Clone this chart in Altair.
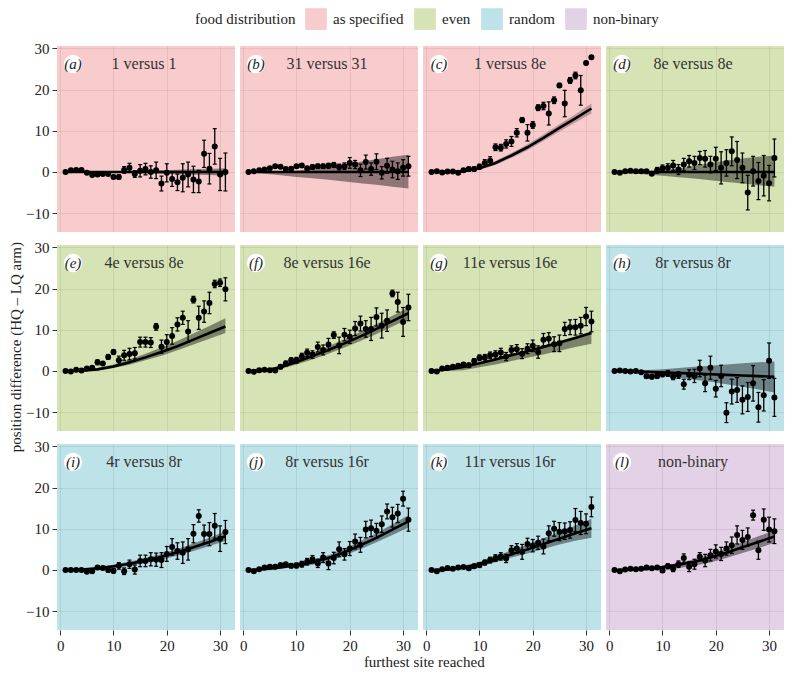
import altair as alt
import pandas as pd

letters = list("abcdefghijkl")
titles = ["1 versus 1", "31 versus 31", "1 versus 8e", "8e versus 8e",
          "4e versus 8e", "8e versus 16e", "11e versus 16e", "8r versus 8r",
          "4r versus 8r", "8r versus 16r", "11r versus 16r", "non-binary"]
foods = ["as specified", "as specified", "as specified", "even",
         "even", "even", "even", "random",
         "random", "random", "random", "non-binary"]
food_domain = ["as specified", "even", "random", "non-binary"]
food_colors = ["#f8cbcd", "#d5e3b5", "#bde2e8", "#e3d1e6"]

sites = list(range(1, 32))
fit_sites = [1, 4, 7, 10, 13, 16, 19, 22, 25, 28, 31]

means = {
    "a": [0, 0.4, 0.5, 0.5, -0.2, -0.7, -0.6, -0.5, -0.5, -1.2, -1.2, 0.5, 1.0, -0.5, 0.3, 0.7, 0, 0.4, -2.8, -0.2, -1.7, -2.5, -1.4, -0.6, -1.8, -2.3, 4.4, 0.8, 6.2, -0.6, 0],
    "b": [0, 0.15, 0.4, 0.6, 0.9, 1.4, 1.3, 0.7, 0.8, 1.4, 1.6, 0.9, 1.2, 1.4, 1.4, 1.5, 1.7, 1.2, 1.4, 2.2, 1.8, 0.4, 2.4, 0.7, 2.5, -0.2, 1.5, 0.6, 0.2, 1.0, 1.4],
    "c": [0, 0.2, -0.1, 0.1, 0.1, -0.2, 0.4, 0.7, 0.7, 1.3, 2.2, 2.7, 6.0, 5.9, 6.8, 7.4, 9.5, 12.6, 9.5, 11.4, 15.6, 16.0, 14.2, 17.4, 21.0, 16.6, 22.2, 23.4, 19.8, 26.4, 27.8],
    "d": [0, -0.2, 0.2, 0.3, 0.2, 0.2, 0.2, -0.4, 0.4, 0.9, 1.0, 1.6, 0.6, 1.8, 2.6, 2.2, 3.4, 3.2, 1.8, 3.2, 1.0, 2.2, 5.0, 2.9, 1.0, -5.0, 0.2, -2.2, -0.9, -2.7, 3.4],
    "e": [0, -0.1, 0.3, 0.1, 0.6, 0.8, 2.1, 1.8, 3.4, 4.6, 2.6, 3.8, 4.1, 4.3, 7.0, 7.0, 6.9, 10.7, 5.9, 7.0, 8.5, 11.3, 12.9, 9.6, 17.3, 12.9, 14.4, 16.5, 21.1, 21.4, 19.8],
    "f": [0, -0.2, 0.2, 0.3, 0.2, 0.1, 1.0, 1.8, 2.6, 2.6, 3.5, 4.4, 4.0, 5.8, 5.1, 6.4, 8.7, 6.2, 8.8, 8.3, 10.3, 11.5, 10.2, 10.2, 13.1, 11.0, 12.2, 18.8, 16.7, 11.9, 15.4],
    "g": [0, -0.1, 0.6, 0.8, 1.0, 1.3, 1.6, 1.4, 2.4, 3.2, 3.2, 3.8, 4.0, 4.5, 3.5, 5.1, 5.3, 4.2, 5.4, 6.1, 4.6, 7.6, 7.8, 6.5, 6.7, 10.2, 10.6, 10.6, 11.0, 13.2, 12.0],
    "h": [0, 0.1, 0, -0.1, 0, -0.3, -1.3, -1.4, -1.2, -0.8, -0.6, -1.4, -1.0, -3.2, -0.9, -1.2, 0.6, -3.0, 0.8, -4.3, -1.2, -10.1, -5.0, -4.6, -7.0, -6.3, -3.0, -8.8, -5.9, 2.5, -6.4],
    "i": [0, 0, 0, 0, -0.4, -0.3, 0.6, 0.5, 0, -0.2, 1.0, -0.3, 1.4, 0.1, 2.2, 2.2, 2.6, 2.5, 2.4, 3.9, 5.6, 4.6, 4.2, 5.0, 8.8, 13.1, 8.7, 8.7, 10.7, 7.6, 9.2],
    "j": [0, -0.3, 0.2, 0.6, 0.8, 0.8, 1.2, 1.4, 1.0, 1.1, 1.4, 2.0, 2.6, 1.6, 3.0, 1.6, 2.9, 5.0, 3.8, 5.2, 6.9, 6.1, 9.8, 10.1, 9.5, 11.1, 14.2, 12.8, 13.7, 17.3, 12.2],
    "k": [0, -0.3, 0.2, 0.5, 0.3, 0.6, 0.7, 0.4, 0.9, 1.2, 1.8, 2.4, 2.9, 3.3, 2.8, 4.8, 5.2, 4.4, 6.3, 5.9, 6.6, 5.7, 8.9, 10.0, 9.3, 9.4, 9.7, 12.1, 11.4, 11.2, 15.3],
    "l": [0, -0.3, 0.1, 0.3, 0.2, 0.3, 0.6, 0.4, 0.6, -0.1, 0.9, 0.3, 1.4, 2.9, 0.8, 1.4, 3.2, 2.3, 3.6, 4.5, 3.9, 5.2, 6.0, 8.5, 7.3, 8.0, 13.3, 4.8, 12.2, 9.8, 9.4],
}

errs = {
    "a": [0.2, 0.2, 0.2, 0.2, 0.2, 0.3, 0.3, 0.3, 0.3, 0.4, 0.5, 0.8, 1.1, 0.8, 1.5, 1.4, 1.5, 2.0, 1.8, 2.2, 1.8, 2.0, 3.4, 3.0, 3.2, 2.7, 3.3, 3.7, 4.3, 3.9, 4.6],
    "b": [0.2, 0.2, 0.2, 0.2, 0.2, 0.3, 0.3, 0.3, 0.3, 0.4, 0.4, 0.4, 0.5, 0.5, 0.5, 0.6, 0.6, 0.7, 0.8, 1.3, 1.0, 1.5, 1.7, 1.5, 1.9, 1.5, 1.8, 2.0, 2.0, 2.0, 2.4],
    "c": [0.2, 0.2, 0.2, 0.2, 0.3, 0.3, 0.4, 0.5, 0.5, 0.6, 0.8, 1.0, 0.8, 0.8, 1.0, 1.2, 1.0, 0.6, 2.0, 0.8, 0.7, 0.9, 2.8, 0.8, 0.5, 3.2, 0.7, 0.8, 3.6, 0.4, 0.4],
    "d": [0.2, 0.2, 0.2, 0.2, 0.2, 0.3, 0.3, 0.4, 0.7, 0.8, 1.0, 1.2, 1.2, 1.5, 1.4, 1.6, 1.6, 2.0, 2.0, 2.8, 3.9, 3.2, 3.5, 4.5, 3.6, 4.2, 3.6, 4.5, 4.9, 4.3, 4.6],
    "e": [0.2, 0.2, 0.2, 0.2, 0.3, 0.3, 0.6, 0.4, 0.6, 0.6, 1.0, 1.2, 1.4, 1.4, 1.2, 1.2, 1.2, 0.8, 1.6, 1.8, 2.0, 1.6, 1.6, 2.6, 0.8, 2.8, 2.6, 2.6, 0.9, 0.9, 2.8],
    "f": [0.2, 0.2, 0.2, 0.2, 0.3, 0.3, 0.5, 0.6, 0.6, 0.7, 0.8, 0.9, 0.9, 1.2, 1.2, 1.5, 0.8, 2.0, 1.5, 1.6, 1.7, 1.8, 2.0, 2.8, 2.2, 3.0, 2.6, 0.8, 2.4, 3.5, 3.2],
    "g": [0.2, 0.2, 0.3, 0.3, 0.3, 0.4, 0.4, 0.5, 0.6, 0.7, 0.8, 0.8, 0.9, 1.0, 1.0, 1.0, 1.1, 1.2, 1.2, 1.4, 1.5, 1.5, 1.5, 1.8, 2.0, 1.6, 1.8, 1.9, 2.0, 2.2, 2.5],
    "h": [0.2, 0.2, 0.2, 0.2, 0.2, 0.3, 0.5, 0.5, 0.6, 0.6, 0.7, 0.7, 0.8, 1.2, 1.2, 1.6, 2.0, 2.0, 2.8, 2.0, 2.6, 2.4, 3.0, 3.0, 3.4, 3.5, 4.3, 3.6, 3.8, 4.3, 4.6],
    "i": [0.2, 0.2, 0.2, 0.2, 0.2, 0.3, 0.3, 0.4, 0.5, 0.6, 0.8, 0.8, 1.0, 1.1, 1.4, 1.4, 1.6, 1.6, 1.8, 1.8, 2.0, 2.0, 2.6, 2.6, 2.2, 1.5, 2.2, 2.8, 3.0, 3.1, 2.8],
    "j": [0.2, 0.2, 0.2, 0.2, 0.3, 0.3, 0.3, 0.4, 0.5, 0.6, 0.7, 0.8, 0.9, 1.0, 1.2, 1.5, 1.4, 1.8, 1.4, 1.7, 1.8, 1.8, 2.0, 2.0, 1.8, 2.0, 1.8, 2.4, 2.2, 1.8, 2.8],
    "k": [0.2, 0.2, 0.2, 0.2, 0.2, 0.3, 0.3, 0.4, 0.5, 0.6, 0.6, 0.7, 0.8, 0.9, 1.0, 1.1, 1.2, 1.8, 1.4, 1.5, 1.6, 1.8, 1.8, 1.8, 2.2, 2.0, 2.0, 2.8, 2.8, 2.4, 2.4],
    "l": [0.2, 0.2, 0.2, 0.2, 0.2, 0.3, 0.3, 0.3, 0.4, 0.5, 0.6, 0.7, 0.8, 1.0, 1.2, 1.2, 1.0, 1.5, 1.4, 1.6, 1.6, 1.6, 2.0, 2.2, 2.3, 2.2, 1.2, 2.2, 2.6, 3.0, 3.0],
}

fit_mid = {
    "a": [0, 0, 0, 0, 0, 0, 0, 0, 0, 0, 0],
    "b": [0, 0, 0, 0, 0, 0, 0, 0, 0, 0, 0],
    "c": [0, 0, 0.2, 0.9, 2.2, 4.0, 6.0, 8.3, 10.7, 13.0, 15.4],
    "d": [0, 0, 0, 0, 0, 0, 0, 0, 0, 0, 0],
    "e": [0, 0.05, 0.4, 1.1, 2.1, 3.3, 4.6, 6.0, 7.6, 9.2, 10.8],
    "f": [0, 0.1, 0.9, 2.2, 3.6, 5.1, 6.7, 8.4, 10.2, 12.1, 14.0],
    "g": [0, 0.4, 1.0, 1.9, 2.8, 3.8, 4.8, 5.8, 6.9, 8.0, 9.2],
    "h": [0, -0.1, -0.2, -0.35, -0.5, -0.65, -0.8, -0.95, -1.1, -1.25, -1.4],
    "i": [0, 0.1, 0.4, 0.9, 1.5, 2.3, 3.2, 4.3, 5.5, 6.8, 8.2],
    "j": [0, 0.2, 0.6, 1.2, 1.9, 2.9, 4.3, 6.0, 7.8, 9.8, 11.8],
    "k": [0, 0.1, 0.6, 1.4, 2.5, 3.8, 5.0, 6.3, 7.6, 8.9, 10.1],
    "l": [0, 0.1, 0.3, 0.7, 1.3, 2.0, 3.0, 4.2, 5.5, 6.8, 8.1],
}
fit_hi = {
    "a": [0, 0.1, 0.15, 0.2, 0.3, 0.35, 0.45, 0.55, 0.65, 0.75, 0.9],
    "b": [0, 0, 0.1, 0.3, 0.8, 1.3, 1.9, 2.5, 3.1, 3.7, 4.2],
    "c": [0, 0.2, 0.5, 1.3, 2.7, 4.6, 6.7, 9.1, 11.6, 14.0, 16.6],
    "d": [0, 0.1, 0.2, 0.4, 0.8, 1.5, 2.2, 2.8, 3.3, 3.7, 4.0],
    "e": [0, 0.15, 0.7, 1.6, 2.8, 4.2, 5.7, 7.3, 9.1, 10.9, 12.8],
    "f": [0, 0.3, 1.3, 2.8, 4.4, 6.0, 7.7, 9.5, 11.4, 13.4, 15.4],
    "g": [0, 0.5, 1.2, 2.1, 3.1, 4.1, 5.1, 6.1, 7.3, 8.4, 9.6],
    "h": [0, 0.1, 0.25, 0.4, 0.7, 1.0, 1.3, 1.6, 1.9, 2.1, 2.3],
    "i": [0, 0.3, 0.7, 1.3, 2.0, 2.9, 3.9, 5.1, 6.4, 7.8, 9.4],
    "j": [0, 0.4, 0.9, 1.7, 2.5, 3.6, 5.1, 7.0, 8.9, 11.1, 13.3],
    "k": [0, 0.3, 1.0, 2.0, 3.3, 4.8, 6.2, 7.7, 9.2, 10.8, 12.4],
    "l": [0, 0.2, 0.5, 1.0, 1.7, 2.6, 3.8, 5.2, 6.7, 8.2, 9.6],
}
fit_lo = {
    "a": [0, -0.1, -0.15, -0.2, -0.3, -0.35, -0.45, -0.55, -0.65, -0.75, -0.9],
    "b": [0, -0.4, -0.8, -1.2, -1.5, -1.9, -2.3, -2.7, -3.1, -3.6, -4.0],
    "c": [0, -0.2, -0.1, 0.5, 1.7, 3.4, 5.3, 7.5, 9.8, 12.0, 14.2],
    "d": [0, -0.3, -0.6, -0.9, -1.3, -1.6, -2.0, -2.4, -2.8, -3.2, -3.6],
    "e": [0, -0.05, 0.1, 0.7, 1.5, 2.6, 3.7, 5.0, 6.4, 7.8, 9.2],
    "f": [0, -0.1, 0.5, 1.6, 2.8, 4.2, 5.7, 7.3, 9.0, 10.8, 12.6],
    "g": [0, 0.0, 0.2, 0.9, 1.6, 2.4, 3.2, 4.0, 4.9, 5.8, 6.6],
    "h": [0, -0.4, -0.8, -1.2, -1.6, -2.1, -2.6, -3.2, -3.8, -4.5, -5.2],
    "i": [0, -0.1, 0.1, 0.5, 1.0, 1.7, 2.5, 3.5, 4.6, 5.8, 7.0],
    "j": [0, 0.0, 0.3, 0.7, 1.3, 2.2, 3.5, 5.0, 6.7, 8.5, 10.3],
    "k": [0, -0.1, 0.3, 0.9, 1.9, 3.0, 4.0, 5.1, 6.2, 7.1, 7.8],
    "l": [0, -0.1, -0.1, 0.1, 0.5, 1.0, 1.8, 2.9, 4.1, 5.3, 6.6],
}
ribbon_opacity = {k: 0.42 for k in letters}
ribbon_opacity["c"] = 0.25

# ---- long table built from the arrays above ----
rows = []
for i, p in enumerate(letters):
    r, c = i // 4, i % 4
    rows.append(dict(panel=p, r=r, c=c, kind="bg", food=foods[i]))
    rows.append(dict(panel=p, r=r, c=c, kind="lab", letter=f"({p})", title=titles[i]))
    for s, m, e in zip(sites, means[p], errs[p]):
        rows.append(dict(panel=p, r=r, c=c, kind="pt", x=s, y=m, lo=m - e, hi=m + e))
    for s, m, lo, hi in zip(fit_sites, fit_mid[p], fit_lo[p], fit_hi[p]):
        rows.append(dict(panel=p, r=r, c=c, kind="fit", x=s, y=m, lo=lo, hi=hi,
                         op=ribbon_opacity[p]))
df = pd.DataFrame(rows)

W, H = 178, 186
SERIF = "Liberation Serif"
INK = "#222222"

xs = alt.Scale(domain=[-0.6, 32.8], nice=False, zero=False)
ys = alt.Scale(domain=[-14.55, 30.55], nice=False, zero=False)
ax_common = dict(labelFont=SERIF, labelFontSize=15, labelColor=INK, labelPadding=3,
                 grid=True, gridColor="#000000", gridOpacity=0.07, domain=False,
                 tickColor="#333333", tickSize=5, zindex=1, title=None)
X = alt.X("x:Q", scale=xs, axis=alt.Axis(values=[0, 10, 20, 30], **ax_common))
Y = alt.Y("y:Q", scale=ys, axis=alt.Axis(values=[-10, 0, 10, 20, 30], **ax_common))

base = alt.Chart()

bg = base.transform_filter("datum.kind == 'bg'").mark_rect().encode(
    x=alt.value(0), x2=alt.value(W), y=alt.value(0), y2=alt.value(H),
    color=alt.Color("food:N", scale=alt.Scale(domain=food_domain, range=food_colors),
                    legend=alt.Legend(title="food distribution", orient="none",
                                      legendX=138, legendY=-38, direction="horizontal",
                                      titleOrient="left", symbolType="square",
                                      symbolSize=470, symbolStrokeWidth=0,
                                      symbolOpacity=1, labelFont=SERIF, labelFontSize=15,
                                      titleFont=SERIF, titleFontSize=15,
                                      titleFontWeight="normal", titleColor=INK,
                                      labelColor=INK, columnPadding=10,
                                      labelOffset=6, titlePadding=9)),
)

fit = base.transform_filter("datum.kind == 'fit'")
ribbon = fit.mark_area(color="black").encode(
    x=X, y=alt.Y("lo:Q", scale=ys), y2="hi:Q",
    opacity=alt.Opacity("op:Q", scale=None))
line = fit.mark_line(color="black", strokeWidth=2.6).encode(x=X, y=Y)

pt = base.transform_filter("datum.kind == 'pt'")
bars = pt.mark_rule(color="black", strokeWidth=1.3).encode(x=X, y=alt.Y("lo:Q", scale=ys), y2="hi:Q")
cap_lo = pt.mark_tick(orient="horizontal", size=4, thickness=1.2, color="black", opacity=1).encode(
    x=X, y=alt.Y("lo:Q", scale=ys))
cap_hi = pt.mark_tick(orient="horizontal", size=4, thickness=1.2, color="black", opacity=1).encode(
    x=X, y=alt.Y("hi:Q", scale=ys))
dots = pt.mark_circle(size=36, color="black", opacity=1).encode(x=X, y=Y)

lab = base.transform_filter("datum.kind == 'lab'")
disc = lab.mark_circle(size=340, color="white", opacity=1).encode(x=alt.value(16), y=alt.value(18))
letter = lab.mark_text(font=SERIF, fontStyle="italic", fontSize=15, color=INK).encode(
    x=alt.value(16), y=alt.value(18), text="letter:N")
ttl = lab.mark_text(font=SERIF, fontSize=16, color="#333333").encode(
    x=alt.value(87), y=alt.value(18), text="title:N")

layered = alt.layer(bg, ribbon, line, bars, cap_lo, cap_hi, dots, disc, letter, ttl, data=df).properties(
    width=W, height=H)

facet = layered.facet(
    row=alt.Row("r:O", title=None, header=alt.Header(labels=False)),
    column=alt.Column("c:O", title=None, header=alt.Header(labels=False)),
    spacing={"row": 13, "column": 5},
).properties(
    title=alt.TitleParams("position difference (HQ \u2013 LQ arm)", orient="left",
                          anchor="middle", font=SERIF, fontSize=15, fontWeight="normal",
                          color=INK, offset=2)
)

chart = alt.vconcat(
    facet,
    title=alt.TitleParams("furthest site reached", orient="bottom", anchor="middle",
                          font=SERIF, fontSize=15, fontWeight="normal", color=INK,
                          offset=2, dx=28),
).properties(
    padding={"left": 0, "top": 0, "right": 0, "bottom": 0}
).configure(
    font=SERIF
).configure_view(
    strokeWidth=0
)

chart.save("out.html", embed_options={"renderer": "svg", "actions": False})
